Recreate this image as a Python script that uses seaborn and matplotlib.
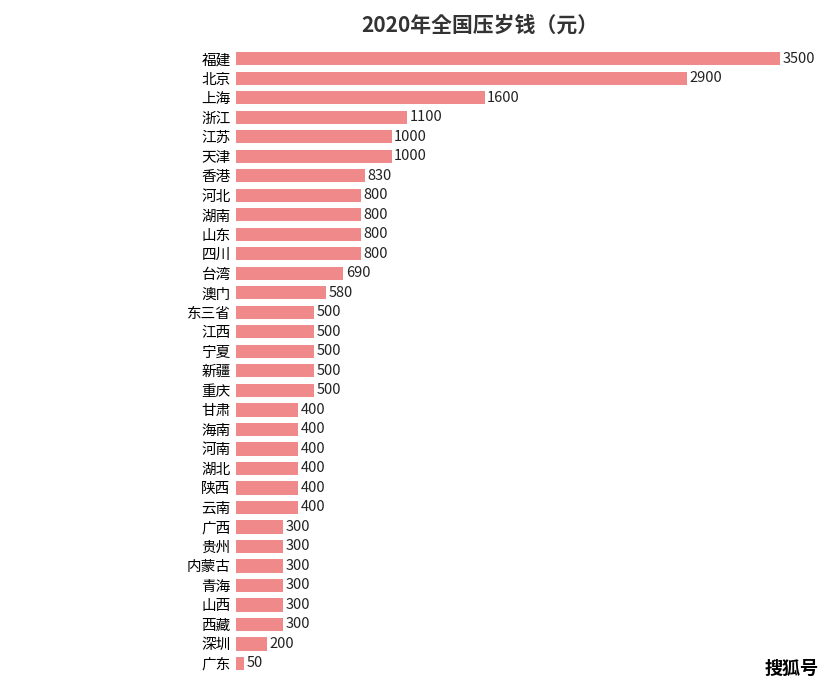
import matplotlib
matplotlib.use("Agg")
import matplotlib.pyplot as plt
from matplotlib import font_manager
import seaborn as sns
import pandas as pd

provinces = ["福建","北京","上海","浙江","江苏","天津","香港","河北","湖南","山东","四川","台湾","澳门","东三省",
             "江西","宁夏","新疆","重庆","甘肃","海南","河南","湖北","陕西","云南","广西","贵州","内蒙古","青海",
             "山西","西藏","深圳","广东"]
amounts = [3500,2900,1600,1100,1000,1000,830,800,800,800,800,690,580,500,
           500,500,500,500,400,400,400,400,400,400,300,300,300,300,
           300,300,200,50]

cjk = [f.name for f in font_manager.fontManager.ttflist if "CJK" in f.name and "Sans" in f.name]
pref = [n for n in cjk if n.endswith("SC")] or cjk
fam = pref[0] if pref else "DejaVu Sans"
plt.rcParams["font.sans-serif"] = [fam, "DejaVu Sans"]
plt.rcParams["font.family"] = "sans-serif"

df = pd.DataFrame({"p": provinces, "v": amounts})
fig = plt.figure(figsize=(8.23, 6.82), dpi=100)
ax = fig.add_axes([0.287, 0.013, 0.661, 0.915])
sns.barplot(data=df, x="v", y="p", orient="h", color="#f08a8a", saturation=1, width=0.68, ax=ax)
ax.set_xlim(0, 3500)
ax.set_ylim(len(provinces) - 0.5, -0.5)
for i, v in enumerate(amounts):
    ax.text(v + 15, i, str(v), va="center", ha="left", fontsize=10.5, color="#222222")
ax.set_xlabel(""); ax.set_ylabel("")
ax.set_xticks([])
ax.tick_params(axis="y", length=0, labelsize=10.5, pad=4)
for s in ax.spines.values():
    s.set_visible(False)
fig.text(0.583, 0.963, "2020年全国压岁钱（元）", ha="center", va="center", fontsize=15, fontweight="bold", color="#333333")
fig.text(0.995, 0.02, "搜狐号", ha="right", va="center", fontsize=13, fontweight="bold", color="black")
fig.savefig("out.png", dpi=100)
